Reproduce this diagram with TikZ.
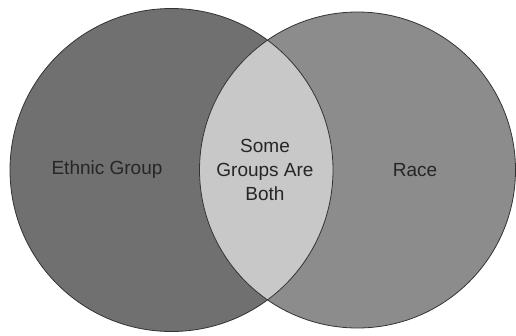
\documentclass[tikz,border=0pt]{standalone}
\usepackage{fontspec}
\setmainfont{Liberation Sans}
\usepackage{xcolor}
\usepackage{tikz}
\usetikzlibrary{positioning}

\definecolor{ethnicgray}{RGB}{112,112,112}
\definecolor{racegray}{RGB}{140,140,140}
\definecolor{bothgray}{RGB}{200,200,200}

\begin{document}
\begin{tikzpicture}[x=1pt, y=-1pt,
    venntext/.style={font=\fontsize{19}{24}\selectfont, text=black!85, align=center}]

    \useasboundingbox (0,0) rectangle (516,335);

    % Circles
    \fill[ethnicgray] (171.5,170) circle (161.5);
    \fill[racegray] (357.5,170) circle (158);

    % Overlap
    \begin{scope}
        \clip (171.5,170) circle (161.5);
        \fill[bothgray] (357.5,170) circle (158);
    \end{scope}

    \draw[black!80, line width=0.8pt] (171.5,170) circle (161.5);
    \draw[black!80, line width=0.8pt] (357.5,170) circle (158);

    % Labels
    \node[venntext] (ethnic) at (107,170) {Ethnic Group};
    \node[venntext] (both) at (265,170) {Some\\Groups Are\\Both};
    \node[venntext] (race) at (415,170) {Race};

\end{tikzpicture}
\end{document}
